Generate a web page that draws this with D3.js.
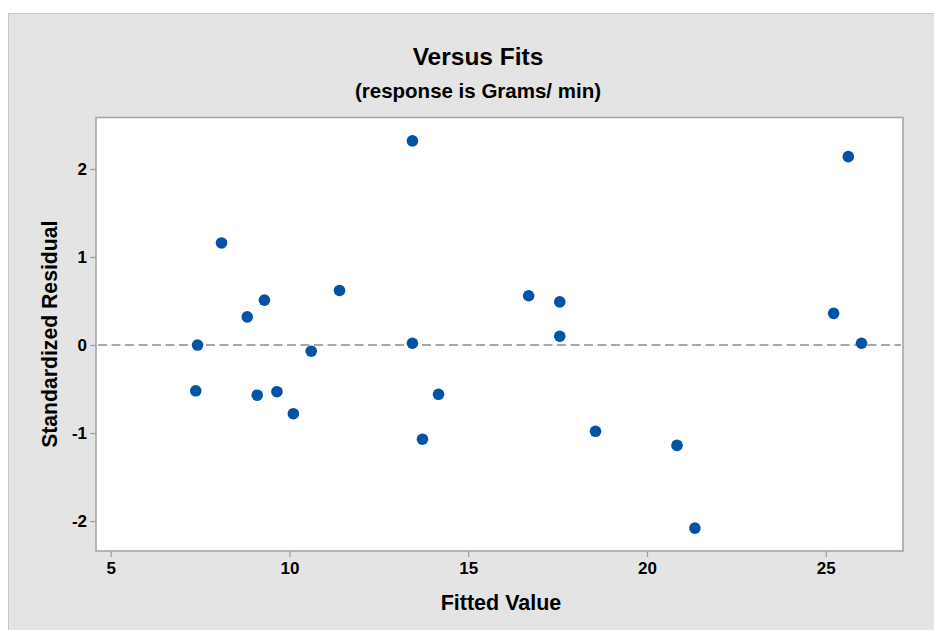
<!DOCTYPE html>
<html>
<head>
<meta charset="utf-8">
<script src="https://cdn.jsdelivr.net/npm/d3@7"></script>
<style>
  html, body { margin: 0; padding: 0; background: #ffffff; }
  svg { display: block; }
  text { font-family: "Liberation Sans", Arial, sans-serif; font-weight: bold; fill: #000; }
</style>
</head>
<body>
<svg id="chart" width="934" height="630"></svg>
<script>
// Residuals versus fitted values
const fittedValues = [7.38, 7.43, 8.10, 8.82, 9.10, 9.30, 9.65, 10.11, 10.61, 11.40,
                      13.44, 13.44, 13.72, 14.17, 16.69, 17.56, 17.56, 18.56,
                      20.84, 21.34, 25.22, 25.63, 26.00];
const stdResiduals = [-0.52, 0.00, 1.16, 0.32, -0.57, 0.51, -0.53, -0.78, -0.07, 0.62,
                      2.32, 0.02, -1.07, -0.56, 0.56, 0.49, 0.10, -0.98,
                      -1.14, -2.08, 0.36, 2.14, 0.02];
const xTicks = [5, 10, 15, 20, 25];
const yTicks = [-2, -1, 0, 1, 2];
const xDomain = [4.59, 27.16];
const yDomain = [-2.34, 2.585];
const titleText = "Versus Fits";
const subtitleText = "(response is Grams/ min)";
const xLabel = "Fitted Value";
const yLabel = "Standardized Residual";

const svg = d3.select("#chart");
const W = 934, H = 630;
const plot = { left: 96, right: 903, top: 117.5, bottom: 551 };

// outer panel
svg.append("rect")
  .attr("x", 8.5).attr("y", 13.5)
  .attr("width", W).attr("height", H)
  .attr("fill", "#e4e4e4").attr("stroke", "#c9c9c9").attr("stroke-width", 1);

const x = d3.scaleLinear().domain(xDomain).range([plot.left, plot.right]);
const y = d3.scaleLinear().domain(yDomain).range([plot.bottom, plot.top]);

// plot area
svg.append("rect")
  .attr("x", plot.left).attr("y", plot.top)
  .attr("width", plot.right - plot.left).attr("height", plot.bottom - plot.top)
  .attr("fill", "#ffffff");

// reference line at zero
svg.append("line")
  .attr("x1", plot.left + 2).attr("x2", plot.right - 2)
  .attr("y1", y(0)).attr("y2", y(0))
  .attr("stroke", "#a8a8a8").attr("stroke-width", 2)
  .attr("stroke-dasharray", "9,4.5");

// axes (plain hyphen for negative labels)
const plainFormat = d => String(d);
const xAxis = svg.append("g")
  .attr("transform", `translate(0,${plot.bottom})`)
  .call(d3.axisBottom(x).tickValues(xTicks).tickSize(6).tickPadding(5).tickFormat(plainFormat));
const yAxis = svg.append("g")
  .attr("transform", `translate(${plot.left},0)`)
  .call(d3.axisLeft(y).tickValues(yTicks).tickSize(6).tickPadding(3).tickFormat(plainFormat));
[xAxis, yAxis].forEach(g => {
  g.select(".domain").remove();
  g.selectAll(".tick line").attr("stroke", "#a0a0a0").attr("stroke-width", 1.3);
  g.selectAll(".tick text").attr("font-size", 17).attr("font-family", null).attr("fill", "#000");
});
yAxis.selectAll(".tick text").attr("dy", "0.34em");

// frame
svg.append("rect")
  .attr("x", plot.left).attr("y", plot.top)
  .attr("width", plot.right - plot.left).attr("height", plot.bottom - plot.top)
  .attr("fill", "none").attr("stroke", "#a6a6a6").attr("stroke-width", 1.6);

// points
svg.append("g").selectAll("circle")
  .data(fittedValues.map((f, i) => ({ f, r: stdResiduals[i] })))
  .join("circle")
  .attr("cx", d => x(d.f))
  .attr("cy", d => y(d.r))
  .attr("r", 5.8)
  .attr("fill", "#0054a6");

// titles
svg.append("text")
  .attr("x", 478).attr("y", 65)
  .attr("text-anchor", "middle").attr("font-size", 24.5)
  .text(titleText);
svg.append("text")
  .attr("x", 478).attr("y", 98)
  .attr("text-anchor", "middle").attr("font-size", 20.5)
  .text(subtitleText);
svg.append("text")
  .attr("x", 501).attr("y", 610)
  .attr("text-anchor", "middle").attr("font-size", 21.5)
  .text(xLabel);
svg.append("text")
  .attr("transform", `translate(57,${(plot.top + plot.bottom) / 2}) rotate(-90)`)
  .attr("text-anchor", "middle").attr("font-size", 21.2)
  .text(yLabel);
</script>
</body>
</html>
